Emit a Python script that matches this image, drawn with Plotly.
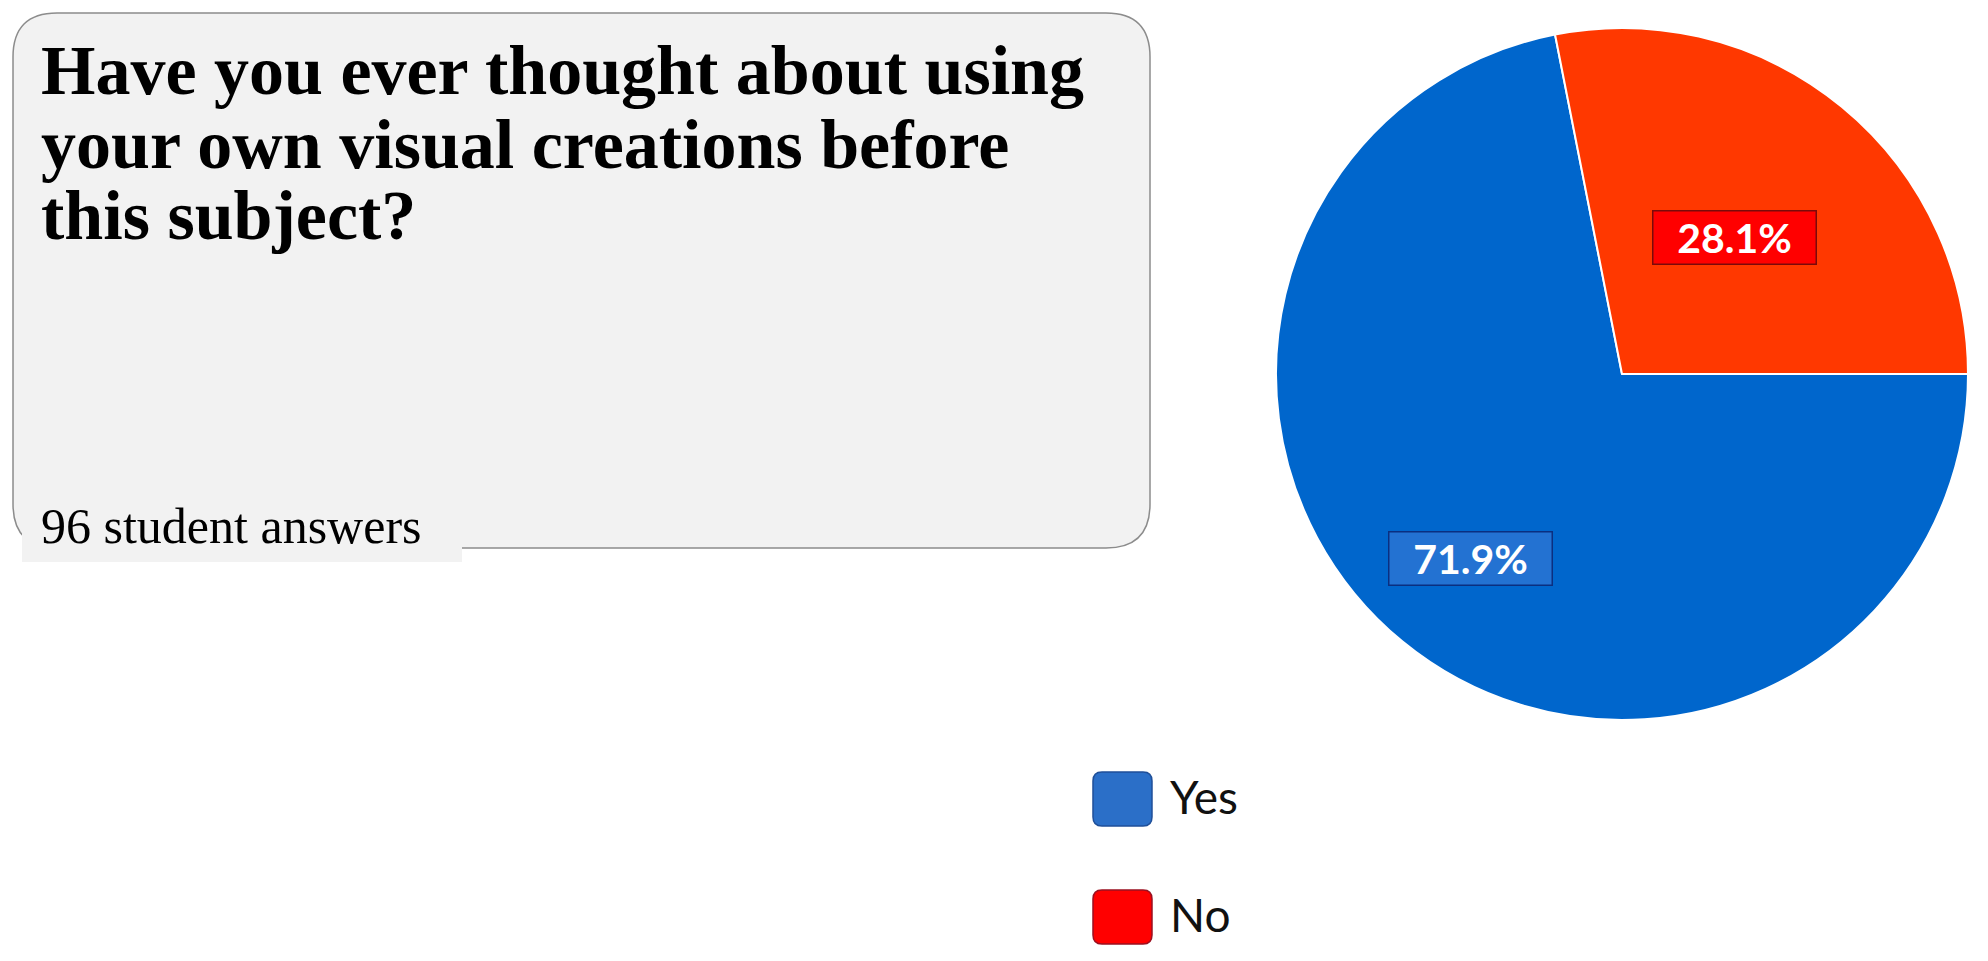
import math
import plotly.graph_objects as go

# ---- data ----
categories = ["Yes", "No"]
percent_values = [71.9, 28.1]
slice_colors = ["#0066CC", "#FF3800"]
legend_colors = ["#2B6FC8", "#FF0000"]
legend_borders = ["#1F4F99", "#9B1020"]
label_box_fill = ["#2372D2", "#FF0000"]
label_box_border = ["#0B2F80", "#7A0A0A"]
title_lines = ["Have you ever thought about using",
               "your own visual creations before",
               "this subject?"]
subtitle = "96 student answers"

W, H = 1988, 961
OFF = 8  # page body margin compensation


def X(px):
    return (px - OFF) / W


def Y(py):
    return 1 - (py - OFF) / H


def rounded_rect(x0, y0, x1, y1, r):
    pts = [
        ("M", [(x0 + r, y0)]),
        ("L", [(x1 - r, y0)]),
        ("Q", [(x1, y0), (x1, y0 + r)]),
        ("L", [(x1, y1 - r)]),
        ("Q", [(x1, y1), (x1 - r, y1)]),
        ("L", [(x0 + r, y1)]),
        ("Q", [(x0, y1), (x0, y1 - r)]),
        ("L", [(x0, y0 + r)]),
        ("Q", [(x0, y0), (x0 + r, y0)]),
    ]
    s = ""
    for cmd, ps in pts:
        s += cmd + " " + " ".join(f"{X(a):.5f},{Y(b):.5f}" for a, b in ps) + " "
    return s + "Z"


# pie geometry (pixels)
cx, cy, r = 1622, 374, 346
rotation = 90

fig = go.Figure()
fig.add_trace(go.Pie(
    labels=categories,
    values=percent_values,
    sort=False,
    direction="clockwise",
    rotation=rotation,
    marker=dict(colors=slice_colors, line=dict(color="white", width=2)),
    textinfo="none",
    hoverinfo="label+percent",
    domain=dict(x=[X(cx - r), X(cx + r)], y=[Y(cy + r), Y(cy - r)]),
    showlegend=False,
))

shapes = []
annotations = []

# question box
shapes.append(dict(type="path", xref="paper", yref="paper",
                   path=rounded_rect(13, 13, 1150, 548, 44),
                   fillcolor="#F2F2F2", line=dict(color="#8C8C8C", width=1.5),
                   layer="below"))
shapes.append(dict(type="rect", xref="paper", yref="paper",
                   x0=X(22), x1=X(462), y0=Y(562), y1=Y(512),
                   fillcolor="#F2F2F2", line=dict(width=0), layer="below"))

baselines = [93, 166, 238]
for line, b in zip(title_lines, baselines):
    annotations.append(dict(text=f"<b>{line}</b>", xref="paper", yref="paper",
                            x=X(39), y=Y(b - 22), xanchor="left", yanchor="middle",
                            showarrow=False,
                            font=dict(family="Liberation Serif", size=70, color="black")))
annotations.append(dict(text=subtitle, xref="paper", yref="paper",
                        x=X(39), y=Y(526), xanchor="left", yanchor="middle",
                        showarrow=False,
                        font=dict(family="Liberation Serif", size=50, color="black")))

# percentage label boxes placed along each slice's mid-angle
total = sum(percent_values)
start = rotation
label_radius_frac = [0.69, 0.51]
for i, v in enumerate(percent_values):
    span = v / total * 360
    mid = math.radians(start + span / 2)
    start += span
    lx = cx + label_radius_frac[i] * r * math.sin(mid)
    ly = cy - label_radius_frac[i] * r * math.cos(mid)
    annotations.append(dict(text=f"<b>{v:.1f}%</b>", xref="paper", yref="paper",
                            x=X(lx), y=Y(ly), xanchor="center", yanchor="middle",
                            showarrow=False, width=162, height=52, borderpad=0,
                            bgcolor=label_box_fill[i], bordercolor=label_box_border[i],
                            borderwidth=1.5,
                            font=dict(family="Lato", size=41, color="white")))

# legend
leg_y = [799, 917]
for i, cat in enumerate(categories):
    yc = leg_y[i]
    shapes.append(dict(type="path", xref="paper", yref="paper",
                       path=rounded_rect(1093, yc - 27, 1152, yc + 27, 9),
                       fillcolor=legend_colors[i],
                       line=dict(color=legend_borders[i], width=1.5)))
    annotations.append(dict(text=cat, xref="paper", yref="paper",
                            x=X(1168), y=Y(yc - 3), xanchor="left", yanchor="middle",
                            showarrow=False,
                            font=dict(family="Lato", size=46, color="#111111")))

fig.update_layout(
    width=W, height=H,
    margin=dict(l=0, r=0, t=0, b=0),
    paper_bgcolor="white", plot_bgcolor="white",
    shapes=shapes, annotations=annotations,
    showlegend=False,
)

fig.write_html("out.html")
